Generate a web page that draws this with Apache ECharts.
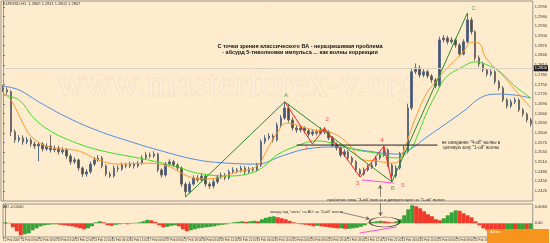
<!DOCTYPE html>
<html><head><meta charset="utf-8">
<script src="https://cdn.jsdelivr.net/npm/echarts@6/dist/echarts.min.js"></script>
<style>html,body{margin:0;padding:0;background:#FFEBCD;}#c{width:550px;height:243px;}</style>
</head><body><div id="c"></div>
<script>
// ---- candle data (EURUSD H1) ----
const opens = [1.2739,1.2733,1.2727,1.2603,1.2578,1.2584,1.2572,1.2578,1.2565,1.2559,
1.2565,1.2550,1.2559,1.2547,1.2553,1.2541,1.2547,1.2528,1.2510,1.2516,
1.2491,1.2472,1.2479,1.2503,1.2516,1.2522,1.2497,1.2472,1.2466,1.2491,
1.2488,1.2500,1.2497,1.2503,1.2497,1.2506,1.2522,1.2531,1.2528,1.2534,
1.2485,1.2469,1.2503,1.2510,1.2500,1.2491,1.2441,1.2417,1.2441,1.2460,
1.2454,1.2466,1.2441,1.2435,1.2448,1.2463,1.2469,1.2460,1.2479,1.2485,
1.2482,1.2491,1.2479,1.2488,1.2485,1.2500,1.2572,1.2584,1.2590,1.2578,
1.2624,1.2646,1.2677,1.2640,1.2615,1.2609,1.2615,1.2606,1.2596,1.2603,
1.2599,1.2609,1.2603,1.2584,1.2562,1.2553,1.2531,1.2541,1.2522,1.2510,
1.2485,1.2472,1.2485,1.2494,1.2500,1.2522,1.2531,1.2547,1.2500,1.2466,
1.2491,1.2534,1.2541,1.2677,1.2789,1.2801,1.2779,1.2789,1.2776,1.2764,
1.2745,1.2888,1.2894,1.2882,1.2888,1.2872,1.2844,1.2882,1.2950,1.2913,
1.2832,1.2813,1.2795,1.2782,1.2789,1.2758,1.2739,1.2702,1.2683,1.2696,
1.2702,1.2671,1.2658,1.2640];
const closes = [1.2733,1.2727,1.2603,1.2578,1.2584,1.2572,1.2578,1.2565,1.2559,1.2565,
1.2550,1.2559,1.2547,1.2553,1.2541,1.2547,1.2528,1.2510,1.2516,1.2491,
1.2472,1.2479,1.2503,1.2516,1.2522,1.2497,1.2472,1.2466,1.2491,1.2488,
1.2500,1.2497,1.2503,1.2497,1.2506,1.2522,1.2531,1.2528,1.2534,1.2485,
1.2469,1.2503,1.2510,1.2500,1.2491,1.2441,1.2417,1.2441,1.2460,1.2454,
1.2466,1.2441,1.2435,1.2448,1.2463,1.2469,1.2460,1.2479,1.2485,1.2482,
1.2491,1.2479,1.2488,1.2485,1.2500,1.2572,1.2584,1.2590,1.2578,1.2624,
1.2646,1.2677,1.2640,1.2615,1.2609,1.2615,1.2606,1.2596,1.2603,1.2599,
1.2609,1.2603,1.2584,1.2562,1.2553,1.2531,1.2541,1.2522,1.2510,1.2485,
1.2472,1.2485,1.2494,1.2500,1.2522,1.2531,1.2547,1.2500,1.2466,1.2491,
1.2534,1.2541,1.2677,1.2789,1.2801,1.2779,1.2789,1.2776,1.2764,1.2745,
1.2888,1.2894,1.2882,1.2888,1.2872,1.2844,1.2882,1.2950,1.2913,1.2832,
1.2813,1.2795,1.2782,1.2789,1.2758,1.2739,1.2702,1.2683,1.2696,1.2702,
1.2671,1.2658,1.2640,1.2627];
const highs = [1.2748,1.2741,1.2732,1.2611,1.2593,1.2592,1.2587,1.2585,1.2573,1.2572,
1.2571,1.2567,1.2593,1.2561,1.2560,1.2555,1.2553,1.2535,1.2524,1.2520,
1.2496,1.2487,1.2511,1.2525,1.2531,1.2528,1.2502,1.2480,1.2498,1.2499,
1.2508,1.2507,1.2511,1.2509,1.2513,1.2530,1.2540,1.2539,1.2543,1.2538,
1.2490,1.2510,1.2518,1.2516,1.2506,1.2496,1.2447,1.2449,1.2468,1.2469,
1.2474,1.2471,1.2448,1.2456,1.2470,1.2477,1.2475,1.2486,1.2493,1.2491,
1.2498,1.2497,1.2495,1.2494,1.2507,1.2580,1.2593,1.2599,1.2597,1.2632,
1.2655,1.2696,1.2690,1.2648,1.2623,1.2624,1.2620,1.2612,1.2611,1.2610,
1.2617,1.2618,1.2608,1.2590,1.2570,1.2558,1.2549,1.2546,1.2528,1.2515,
1.2490,1.2492,1.2502,1.2508,1.2529,1.2539,1.2558,1.2552,1.2505,1.2499,
1.2541,1.2560,1.2690,1.2800,1.2815,1.2809,1.2797,1.2795,1.2782,1.2770,
1.2898,1.2903,1.2901,1.2896,1.2893,1.2878,1.2890,1.2971,1.2958,1.2918,
1.2840,1.2820,1.2801,1.2797,1.2794,1.2764,1.2745,1.2708,1.2704,1.2710,
1.2707,1.2677,1.2663,1.2646];
const lows = [1.2726,1.2719,1.2590,1.2569,1.2570,1.2563,1.2565,1.2557,1.2550,1.2512,
1.2542,1.2544,1.2539,1.2540,1.2533,1.2534,1.2519,1.2501,1.2503,1.2482,
1.2463,1.2464,1.2473,1.2497,1.2510,1.2490,1.2465,1.2460,1.2461,1.2479,
1.2482,1.2490,1.2491,1.2489,1.2492,1.2501,1.2517,1.2521,1.2522,1.2478,
1.2461,1.2464,1.2497,1.2493,1.2483,1.2432,1.2401,1.2410,1.2436,1.2446,
1.2448,1.2433,1.2426,1.2428,1.2442,1.2457,1.2453,1.2455,1.2472,1.2475,
1.2477,1.2472,1.2473,1.2479,1.2480,1.2494,1.2565,1.2577,1.2570,1.2573,
1.2617,1.2640,1.2632,1.2607,1.2600,1.2602,1.2598,1.2588,1.2590,1.2592,
1.2594,1.2596,1.2577,1.2555,1.2545,1.2524,1.2525,1.2515,1.2502,1.2478,
1.2463,1.2467,1.2480,1.2488,1.2495,1.2516,1.2525,1.2494,1.2448,1.2460,
1.2486,1.2527,1.2536,1.2670,1.2782,1.2771,1.2772,1.2769,1.2755,1.2738,
1.2740,1.2880,1.2874,1.2876,1.2864,1.2837,1.2840,1.2877,1.2905,1.2824,
1.2805,1.2788,1.2774,1.2775,1.2750,1.2731,1.2695,1.2675,1.2677,1.2689,
1.2664,1.2650,1.2632,1.2619];

// ---- moving averages, read as [bar index, price] ----
const maBlue = [[0,1.2745],[4,1.2733],[9,1.2696],[16.5,1.2646],[24,1.2606],[31.5,1.2575],[39,1.2547],[49,1.2516],[56.5,1.2506],[64,1.2503],[70.25,1.2528],[76.5,1.2550],[84,1.2556],[91.5,1.2544],[99,1.2534],[102.75,1.2550],[106.5,1.2584],[111.5,1.2627],[116.5,1.2671],[120.25,1.2708],[124,1.2720],[129,1.2717],[133,1.2708]];
const maLime = [[0,1.2717],[4,1.2702],[7.75,1.2646],[11.5,1.2609],[16.5,1.2578],[24,1.2547],[36.5,1.2516],[44,1.2494],[49,1.2475],[56.5,1.2466],[61.5,1.2472],[65.25,1.2491],[69,1.2531],[74,1.2559],[79,1.2575],[84,1.2565],[89,1.2547],[94,1.2537],[99,1.2522],[102.5,1.2547],[104.5,1.2593],[106.5,1.2655],[109,1.2717],[111.5,1.2770],[115.75,1.2804],[119,1.2820],[121.5,1.2813],[125.25,1.2789],[129,1.2745],[133,1.2708]];
const maOrange = [[0,1.2723],[2,1.2702],[5.25,1.2624],[7.25,1.2587],[11.5,1.2556],[19,1.2544],[24,1.2516],[29,1.2503],[36.5,1.2506],[41.5,1.2497],[46.5,1.2466],[50.25,1.2457],[54,1.2460],[59,1.2479],[64,1.2497],[66.5,1.2547],[69,1.2599],[71.5,1.2630],[74,1.2624],[78.25,1.2609],[82.25,1.2603],[86.5,1.2572],[90.75,1.2516],[94,1.2513],[97.75,1.2506],[99.5,1.2510],[101.5,1.2562],[103.25,1.2624],[106.5,1.2717],[109,1.2758],[111.5,1.2795],[115.75,1.2847],[118.25,1.2881],[120.25,1.2875],[121.5,1.2835],[126.5,1.2770],[129.75,1.2723],[133,1.2677]];

// ---- wave markup ----
const abcPath = [[46,1.2401],[71,1.2696],[98,1.2448],[117,1.2971]];
const impulsePath = [[71,1.2696],[78,1.2565],[81,1.2615],[90,1.2463],[96,1.2559],[98,1.2448]];
const divergenceMain = [[90.5,1.2454],[98.5,1.2444]];
const levelLine = [[74,1.2562],[109.5,1.2562]];
const waveLabelText = ['A','1','2','3','4','B','5','C'];
const waveLabelIdx = [71.3,76.5,81.7,89.3,95.5,98.2,100.8,118.6];
const waveLabelPrice = [1.2717,1.2556,1.2643,1.2444,1.2578,1.2429,1.2438,1.2987];
const bidPrice = 1.2807;

// ---- Awesome Oscillator ----
const aoValues = [0.0005,0.00025,-0.002,-0.004,-0.006,-0.0055,-0.005,-0.0035,-0.0025,-0.0015,
-0.001,-0.00075,-0.0005,-0.0005,-0.00075,-0.001,-0.00125,-0.0015,-0.002,-0.0025,
-0.003,-0.0025,-0.0015,0.0005,0.001,0.0005,-0.001,-0.00125,-0.00075,-0.0005,
-0.00025,-0.0005,-0.00025,0.00025,0.0005,0.001,0.00175,0.0015,0.00075,-0.001,
-0.002,-0.00175,-0.00125,-0.001,-0.0015,-0.003,-0.004,-0.0035,-0.003,-0.0025,
-0.00225,-0.002,-0.00175,-0.0015,-0.001,-0.00075,-0.0005,0.00025,0.0005,0.00075,
0.001,0.00075,0.001,0.00125,0.001,0.002,0.00275,0.00325,0.0035,0.003,
0.0025,0.002,0.00125,0.0005,-0.00025,-0.0005,-0.00075,-0.001,-0.0015,-0.00125,
-0.0015,-0.00175,-0.002,-0.00225,-0.0025,-0.0025,-0.00275,-0.00275,-0.0025,-0.00225,
-0.00175,-0.001,0.00025,0.00075,0.001,0.00125,0.001,0.00075,0.0005,0.001,
0.002,0.004,0.007,0.009,0.0085,0.0075,0.006,0.0045,0.0035,0.002,
0.0015,0.0025,0.004,0.0055,0.0065,0.00625,0.005,0.004,0.003,0.001,
-0.001,-0.0025,-0.0035,-0.004,-0.00425,-0.0045,-0.005,-0.00475,-0.0045,-0.00475,
-0.0045,-0.004,-0.00425,-0.004];
const aoDivergence = [[89.75,-0.00485],[99,-0.00185]];
const aoEllipse = [[96,0.00065]];

// ---- tick labels ----
const priceTicks = [1.2990,1.2960,1.2930,1.2900,1.2870,1.2840,1.2810,1.2780,1.2750,1.2720,1.2690,1.2660,1.2630,1.2600,1.2570,1.2540,1.2510,1.2480,1.2450,1.2420];
const aoTicks = [0.0084,0];
const dateLabels = ["12 Feb 2009","12 Feb 09:00","12 Feb 18:00","13 Feb 03:00","13 Feb 12:00","13 Feb 21:00","16 Feb 06:00","16 Feb 15:00","17 Feb 00:00","17 Feb 09:00","17 Feb 18:00","18 Feb 03:00","18 Feb 12:00","18 Feb 21:00","19 Feb 06:00","19 Feb 15:00","20 Feb 00:00","20 Feb 09:00","20 Feb 18:00","23 Feb 03:00","23 Feb 12:00","23 Feb 21:00","24 Feb 06:00","24 Feb 15:00","25 Feb 00:00","25 Feb 09:00","25 Feb 18:00","26 Feb 03:00","26 Feb 12:00","26 Feb 21:00"];

const FONT = '"Liberation Sans", Arial, sans-serif';
const n = closes.length;
const cats = closes.map((_, i) => String(i));
const candleData = closes.map((c, i) => [opens[i], c, lows[i], highs[i]]);
const waveLabels = waveLabelText.map((t, i) => ({
  value: [waveLabelIdx[i], waveLabelPrice[i]],
  label: { formatter: t, color: /[A-Z]/.test(t) ? '#2f9a2f' : '#ff2a2a' }
}));

function txt(text, x, y, font, fill, align, valign, extra) {
  return Object.assign({ type: 'text', z: 50, silent: true, style: {
    text: text, x: x, y: y, font: font, fill: fill,
    align: align, textAlign: align, verticalAlign: valign, textVerticalAlign: valign
  }}, extra || {});
}

const chart = echarts.init(document.getElementById('c'), null, { renderer: 'canvas' });
chart.setOption({
  backgroundColor: '#FFEBCD',
  animation: false,
  grid: [
    { left: 1, right: 13, top: 1, height: 200, show: true, borderColor: '#9a968c', borderWidth: 1, backgroundColor: 'transparent' },
    { left: 1, right: 13, top: 204, height: 33, show: true, borderColor: '#9a968c', borderWidth: 1, backgroundColor: 'transparent' }
  ],
  xAxis: [
    { type: 'category', gridIndex: 0, data: cats, show: false },
    { type: 'value', gridIndex: 0, min: -0.5, max: n - 0.5, show: false },
    { type: 'category', gridIndex: 1, data: cats, show: false },
    { type: 'value', gridIndex: 1, min: -0.5, max: n - 0.5, show: false },
    { type: 'value', gridIndex: 1, position: 'bottom', min: 0, max: 29.22, interval: 1,
      axisLine: { show: false }, splitLine: { show: false },
      axisTick: { show: true, length: 2, lineStyle: { color: '#777' } },
      axisLabel: { fontSize: 3, fontFamily: FONT, color: '#333', margin: 1.5, align: 'left',
        formatter: v => dateLabels[Math.round(v)] || '' } }
  ],
  yAxis: [
    { type: 'value', gridIndex: 0, position: 'right', min: 1.23886, max: 1.30086, scale: true,
      splitLine: { show: false }, axisLine: { show: true, lineStyle: { color: '#9a968c' } },
      axisTick: { show: true, length: 2, customValues: priceTicks, lineStyle: { color: '#777' } },
      axisLabel: { fontSize: 4, fontFamily: FONT, color: '#333', margin: 2, customValues: priceTicks,
        formatter: v => v.toFixed(4) } },
    { type: 'value', gridIndex: 1, position: 'right', min: -0.00685, max: 0.00965,
      splitLine: { show: false }, axisLine: { show: true, lineStyle: { color: '#9a968c' } },
      axisTick: { show: true, length: 2, customValues: aoTicks, lineStyle: { color: '#777' } },
      axisLabel: { fontSize: 4, fontFamily: FONT, color: '#333', margin: 2, customValues: aoTicks,
        formatter: v => v === 0 ? '0.00' : v.toFixed(4) } }
  ],
  series: [
    { type: 'candlestick', xAxisIndex: 0, yAxisIndex: 0, data: candleData, barWidth: 2, z: 3,
      itemStyle: { color: '#3e5778', color0: '#4a4a4a', borderColor: '#5b6c84', borderColor0: '#6e6a66', borderWidth: 1 },
      markLine: { silent: true, symbol: 'none', animation: false,
        lineStyle: { color: '#ddd3c4', width: 1, type: 'solid' },
        label: { show: true, position: 'end', distance: 1, fontSize: 4, fontFamily: FONT, color: '#fff', backgroundColor: '#222', padding: [1, 1], formatter: p => p.value.toFixed(4) },
        data: [{ yAxis: bidPrice }] } },
    { type: 'line', xAxisIndex: 1, yAxisIndex: 0, data: maBlue, smooth: 0.4, showSymbol: false, z: 4, lineStyle: { color: '#4f8fe0', width: 1 } },
    { type: 'line', xAxisIndex: 1, yAxisIndex: 0, data: maLime, smooth: 0.4, showSymbol: false, z: 4, lineStyle: { color: '#3fdc2a', width: 1 } },
    { type: 'line', xAxisIndex: 1, yAxisIndex: 0, data: maOrange, smooth: 0.4, showSymbol: false, z: 4, lineStyle: { color: '#ff9a2e', width: 1 } },
    { type: 'line', xAxisIndex: 1, yAxisIndex: 0, data: abcPath, showSymbol: false, z: 6, lineStyle: { color: '#2a8a2a', width: 1 } },
    { type: 'line', xAxisIndex: 1, yAxisIndex: 0, data: impulsePath, showSymbol: false, z: 7, lineStyle: { color: '#ff2020', width: 1 } },
    { type: 'line', xAxisIndex: 1, yAxisIndex: 0, data: divergenceMain, showSymbol: false, z: 7, lineStyle: { color: '#ff4fd8', width: 1 } },
    { type: 'line', xAxisIndex: 1, yAxisIndex: 0, data: levelLine, showSymbol: false, z: 7, lineStyle: { color: '#222', width: 1 } },
    { type: 'scatter', xAxisIndex: 1, yAxisIndex: 0, data: waveLabels, symbolSize: 0, z: 8,
      label: { show: true, position: 'inside', fontSize: 6, fontFamily: FONT } },
    { type: 'lines', coordinateSystem: 'cartesian2d', xAxisIndex: 1, yAxisIndex: 0, z: 8,
      symbol: ['none', 'arrow'], symbolSize: 4, lineStyle: { color: '#222', width: 1 },
      data: [{ coords: [[95, 1.2401], [95, 1.2438]] }] },
    { type: 'bar', xAxisIndex: 2, yAxisIndex: 1, data: aoValues, barWidth: '100%', z: 3,
      itemStyle: { color: p => (p.dataIndex > 0 && aoValues[p.dataIndex] < aoValues[p.dataIndex - 1]) ? '#f23a2a' : '#36a336' } },
    { type: 'line', xAxisIndex: 3, yAxisIndex: 1, data: aoDivergence, showSymbol: false, z: 6, lineStyle: { color: '#ff4fd8', width: 1 } },
    { type: 'scatter', xAxisIndex: 3, yAxisIndex: 1, data: aoEllipse, symbol: 'circle', symbolSize: [30, 10], z: 7,
      itemStyle: { color: 'rgba(0,0,0,0)', borderColor: '#222', borderWidth: 1 } },
    { type: 'lines', coordinateSystem: 'cartesian2d', xAxisIndex: 3, yAxisIndex: 1, z: 8,
      symbol: ['none', 'arrow'], symbolSize: 4, lineStyle: { color: '#222', width: 1 },
      data: [{ coords: [[95, 0.0105], [95, 0.0037]] }, { coords: [[84.75, 0.00565], [92.25, 0.00215]] }] }
  ],
  graphic: [
    { type: 'text', z: -10, silent: true, style: {
      text: 'www.masterforex-v.org', x: 57, y: 105, font: '38px "Liberation Serif", "Times New Roman", serif',
      fill: 'rgba(255,255,255,0.22)', stroke: 'rgba(185,155,115,0.16)', lineWidth: 0.8,
      align: 'left', textAlign: 'left', verticalAlign: 'bottom', textVerticalAlign: 'bottom' } },
    txt('EURUSD,H1  1.2809 1.2811 1.2802 1.2807', 3, 4, '4px ' + FONT, '#333', 'left', 'middle'),
    txt('AO -0.0040', 3, 207, '4px ' + FONT, '#333', 'left', 'middle'),
    txt('С точки зрения классического ВА - неразрешимая проблема\n- абсурд 5-тиволновки импульса ... как волны коррекции', 300, 49, 'bold 5.5px ' + FONT, '#111', 'center', 'middle'),
    txt('не ожидание "4-ой" волны в\nцелевую зону "1-ой" волны', 471, 145, '4.5px ' + FONT, '#333', 'center', 'middle'),
    txt('пробитие пика "3-ей" волны и дивергенция на "5-ой" волне', 386, 199.5, '4.3px ' + FONT, '#333', 'center', 'middle'),
    txt('заход над "ноль" на АО на "4-ой" волне', 270, 212, '4px ' + FONT, '#333', 'left', 'middle'),
    { type: 'rect', z: 60, silent: true, shape: { x: 487, y: 229, width: 62, height: 14 }, style: { fill: '#f7941d' } },
    txt('Alerts', 490, 232, '4px ' + FONT, '#fff', 'left', 'middle', { z: 61 })
  ]
});
</script></body></html>
